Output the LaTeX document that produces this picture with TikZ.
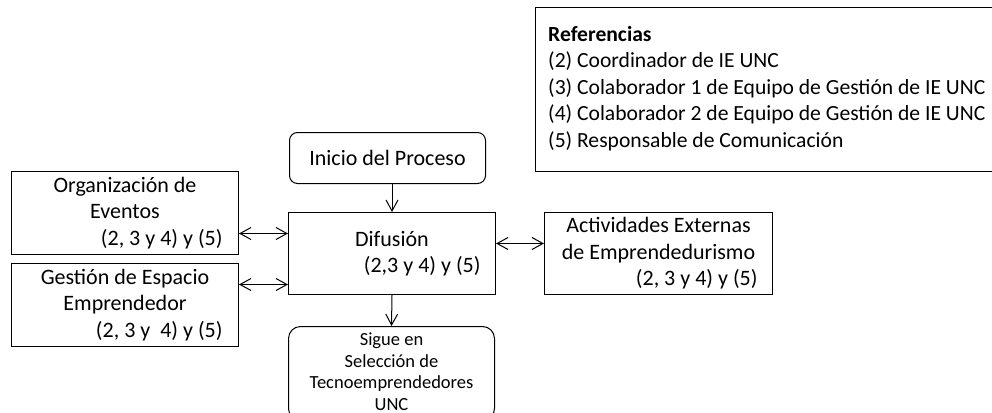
\documentclass[tikz,border=0pt]{standalone}
\usepackage{fontspec}
\setmainfont{Carlito}
\usetikzlibrary{arrows.meta}
\tikzset{
  box/.style={draw, line width=1pt, rectangle, inner sep=0pt, align=center, anchor=north west,
    font=\fontsize{22}{26.5}\selectfont},
  rbox/.style={box, rounded corners=8pt},
  darr/.style={line width=1pt, {Straight Barb[length=11pt,width=12pt]}-{Straight Barb[length=11pt,width=12pt]}},
  arr/.style={line width=1pt, -{Straight Barb[length=11pt,width=12pt]}},
}
\newcommand{\cln}[2]{\makebox[#1][c]{#2}}
\newcommand{\rln}[2]{\makebox[#1][r]{#2}}
\begin{document}
\begin{tikzpicture}[x=1pt,y=-1pt]
\clip (0,0) rectangle (992,412);
% referencias
\node[draw, line width=1pt, anchor=north west, minimum width=470pt, minimum height=164pt, inner sep=0pt] (ref) at (535,7) {};
\node[anchor=west, align=left, inner sep=0pt, font=\fontsize{21.6}{26.5}\selectfont] (reftext) at ([yshift=1pt]ref.west -| 548,0)
 {\textbf{Referencias}\\(2) Coordinador de IE UNC\\(3) Colaborador 1 de Equipo de Gestión de IE UNC\\(4) Colaborador 2 de Equipo de Gestión de IE UNC\\(5) Responsable de Comunicación};
% process
\node[rbox, minimum width=196pt, minimum height=51pt] (ini) at (289,132) {Inicio del Proceso};
\node[box, minimum width=207pt, minimum height=82pt] (dif) at (288,212)
 {\cln{177pt}{Difusión}\\\rln{177pt}{(2,3 y 4) y (5)}};
\node[box, minimum width=227pt, minimum height=83pt] (org) at (11,171)
 {\cln{195pt}{Organización de}\\\cln{195pt}{Eventos}\\\rln{195pt}{(2, 3 y 4) y (5)}};
\node[box, minimum width=227pt, minimum height=83pt] (ges) at (11,263)
 {\cln{195pt}{Gestión de Espacio}\\\cln{195pt}{Emprendedor}\\\rln{195pt}{(2, 3 y\ \ 4) y (5)}};
\node[box, minimum width=228pt, minimum height=82pt] (act) at (544,212)
 {\cln{198pt}{Actividades Externas}\\\cln{198pt}{de Emprendedurismo}\\\rln{198pt}{(2, 3 y 4) y (5)}};
\node[box, rounded corners=12pt, minimum width=206pt, minimum height=94pt,
  font=\fontsize{18.5}{21.5}\selectfont] (sig) at (288,326)
 {\raisebox{4pt}{\begin{tabular}{@{}c@{}}Sigue en\\Selección de\\Tecnoemprendedores\\UNC\end{tabular}}};
% connectors
\draw[arr] (ini.south -| dif.north) -- (dif.north);
\draw[arr] (dif.south) -- (sig.north);
\draw[darr] ([yshift=-20.5pt]org.east) -- ([yshift=-20.5pt]org.east -| dif.west);
\draw[darr] ([yshift=20.5pt]ges.east) -- ([yshift=20.5pt]ges.east -| dif.west);
\draw[darr] ([yshift=10pt]dif.east) -- ([yshift=10pt]dif.east -| act.west);
\end{tikzpicture}
\end{document}
